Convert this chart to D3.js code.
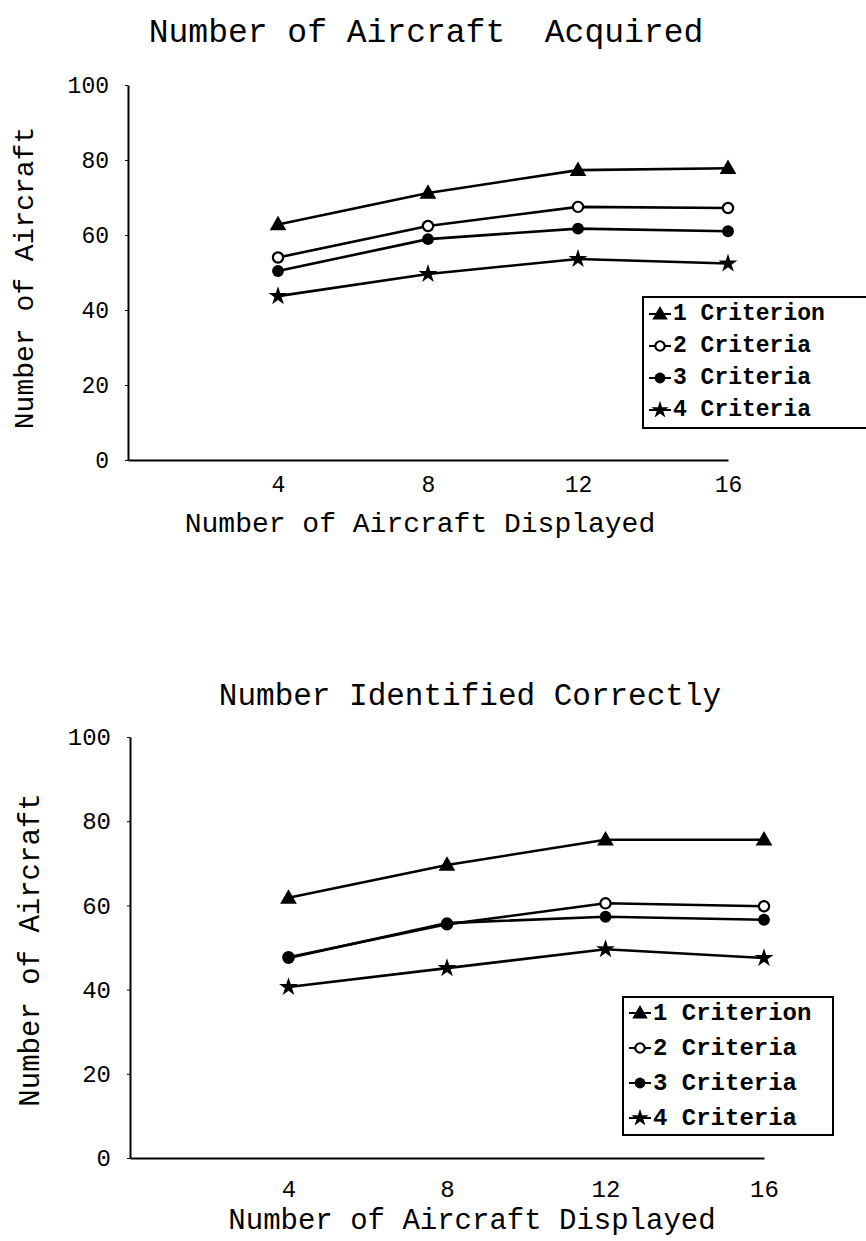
<!DOCTYPE html>
<html>
<head>
<meta charset="utf-8">
<script src="https://cdn.jsdelivr.net/npm/d3@7"></script>
<style>
  html, body { margin: 0; padding: 0; background: #fff; }
  svg { display: block; }
  text { font-family: "Liberation Mono", "DejaVu Sans Mono", monospace; fill: #000; }
</style>
</head>
<body>
<svg id="chart" width="866" height="1241"></svg>
<script>
// ---- data ----
const xValues = [4, 8, 12, 16];
const yTicks = [0, 20, 40, 60, 80, 100];
const seriesNames = ["1 Criterion", "2 Criteria", "3 Criteria", "4 Criteria"];
const seriesMarkers = ["triangle", "openCircle", "circle", "star"];

const acquiredTitle = "Number of Aircraft\u00a0\u00a0Acquired";
const acquired1 = [62.8, 71.2, 77.3, 77.8];
const acquired2 = [54.0, 62.4, 67.5, 67.2];
const acquired3 = [50.4, 58.9, 61.7, 61.0];
const acquired4 = [43.7, 49.6, 53.6, 52.4];

const identifiedTitle = "Number Identified Correctly";
const identified1 = [61.8, 69.6, 75.6, 75.6];
const identified2 = [47.7, 55.5, 60.5, 59.8];
const identified3 = [47.5, 55.8, 57.3, 56.6];
const identified4 = [40.6, 45.1, 49.6, 47.5];

const yAxisLabel = "Number of Aircraft";
const xAxisLabel = "Number of Aircraft Displayed";

// ---- drawing ----
const svg = d3.select("#chart");

function markerPath(type, size) {
  if (type === "triangle") return d3.symbol(d3.symbolTriangle, size * 1.1)();
  if (type === "star") return d3.symbol(d3.symbolStar, size * 1.0)();
  return d3.symbol(d3.symbolCircle, size)();
}

function drawMarker(g, type, x, y, s) {
  const p = g.append("path")
    .attr("transform", `translate(${x},${y + (type === "triangle" ? 1 : 0)})`)
    .attr("d", markerPath(type, s));
  if (type === "openCircle") {
    p.attr("d", d3.symbol(d3.symbolCircle, s * 0.75)())
      .attr("fill", "#fff").attr("stroke", "#000").attr("stroke-width", 2.2);
  } else {
    p.attr("fill", "#000");
  }
}

function drawChart(cfg) {
  const g = svg.append("g");
  const x = d3.scaleLinear().domain([0, 16]).range([cfg.x0, cfg.x16]);
  const y = d3.scaleLinear().domain([0, 100]).range([cfg.y0, cfg.y100]);

  // title
  g.append("text").attr("x", cfg.titleX).attr("y", cfg.titleY)
    .attr("text-anchor", "middle").attr("font-size", cfg.titleSize)
    .text(cfg.title);

  // y axis
  const yAxis = g.append("g").attr("transform", `translate(${cfg.x0},0)`)
    .call(d3.axisLeft(y).tickValues(yTicks).tickSize(3).tickSizeOuter(0).tickPadding(16));
  yAxis.select(".domain").attr("stroke-width", 2);
  yAxis.selectAll("text").attr("font-size", cfg.tickSize)
    .style("font-family", "'Liberation Mono', monospace");

  // x axis
  const xAxis = g.append("g").attr("transform", `translate(0,${cfg.y0})`)
    .call(d3.axisBottom(x).tickValues(xValues).tickSize(0).tickSizeOuter(0).tickPadding(cfg.xTickPad));
  xAxis.select(".domain").attr("stroke-width", 2);
  xAxis.selectAll("text").attr("font-size", cfg.tickSize)
    .style("font-family", "'Liberation Mono', monospace");

  // axis titles
  g.append("text")
    .attr("transform", `translate(${cfg.yLabelX},${cfg.yLabelY}) rotate(-90)`)
    .attr("text-anchor", "middle").attr("dominant-baseline", "central")
    .attr("font-size", cfg.axisTitleSize).text(yAxisLabel);
  g.append("text").attr("x", cfg.xLabelX).attr("y", cfg.xLabelY)
    .attr("text-anchor", "middle").attr("font-size", cfg.axisTitleSize)
    .text(xAxisLabel);

  // lines
  const line = d3.line().x((d, i) => x(xValues[i])).y(d => y(d));
  cfg.series.forEach((vals, si) => {
    g.append("path").datum(vals).attr("d", line)
      .attr("fill", "none").attr("stroke", "#000").attr("stroke-width", 2.6)
      .attr("stroke-linejoin", "round");
  });
  cfg.series.forEach((vals, si) => {
    vals.forEach((v, i) => drawMarker(g, seriesMarkers[si], x(xValues[i]), y(v), cfg.markerSize));
  });

  // legend
  const lg = g.append("g");
  lg.append("rect").attr("x", cfg.legX).attr("y", cfg.legY)
    .attr("width", cfg.legW).attr("height", cfg.legH)
    .attr("fill", "#fff").attr("stroke", "#000").attr("stroke-width", 2);
  seriesNames.forEach((name, i) => {
    const cy = cfg.legY + cfg.legFirst + i * cfg.legStep;
    lg.append("line").attr("x1", cfg.legX + 6).attr("x2", cfg.legX + 28)
      .attr("y1", cy).attr("y2", cy).attr("stroke", "#000").attr("stroke-width", 2);
    drawMarker(lg, seriesMarkers[i], cfg.legX + 17, cy, cfg.markerSize * 0.85);
    lg.append("text").attr("x", cfg.legX + 30).attr("y", cy)
      .attr("dominant-baseline", "central").attr("font-size", cfg.legSize)
      .attr("font-weight", "bold").text(name);
  });
}

drawChart({
  title: acquiredTitle, titleX: 426, titleY: 42, titleSize: 33,
  x0: 128, x16: 728, y0: 460, y100: 85,
  tickSize: 23, xTickPad: 16,
  yLabelX: 25, yLabelY: 278, xLabelX: 420, xLabelY: 532, axisTitleSize: 28,
  series: [acquired1, acquired2, acquired3, acquired4],
  markerSize: 110,
  legX: 643, legY: 297, legW: 240, legH: 131, legFirst: 17, legStep: 32, legSize: 23
});

drawChart({
  title: identifiedTitle, titleX: 470, titleY: 705, titleSize: 31,
  x0: 130, x16: 764, y0: 1158, y100: 737,
  tickSize: 24, xTickPad: 22,
  yLabelX: 31, yLabelY: 950, xLabelX: 472, xLabelY: 1229, axisTitleSize: 29,
  series: [identified1, identified2, identified3, identified4],
  markerSize: 110,
  legX: 623, legY: 997, legW: 210, legH: 138, legFirst: 16, legStep: 35, legSize: 24
});
</script>
</body>
</html>
